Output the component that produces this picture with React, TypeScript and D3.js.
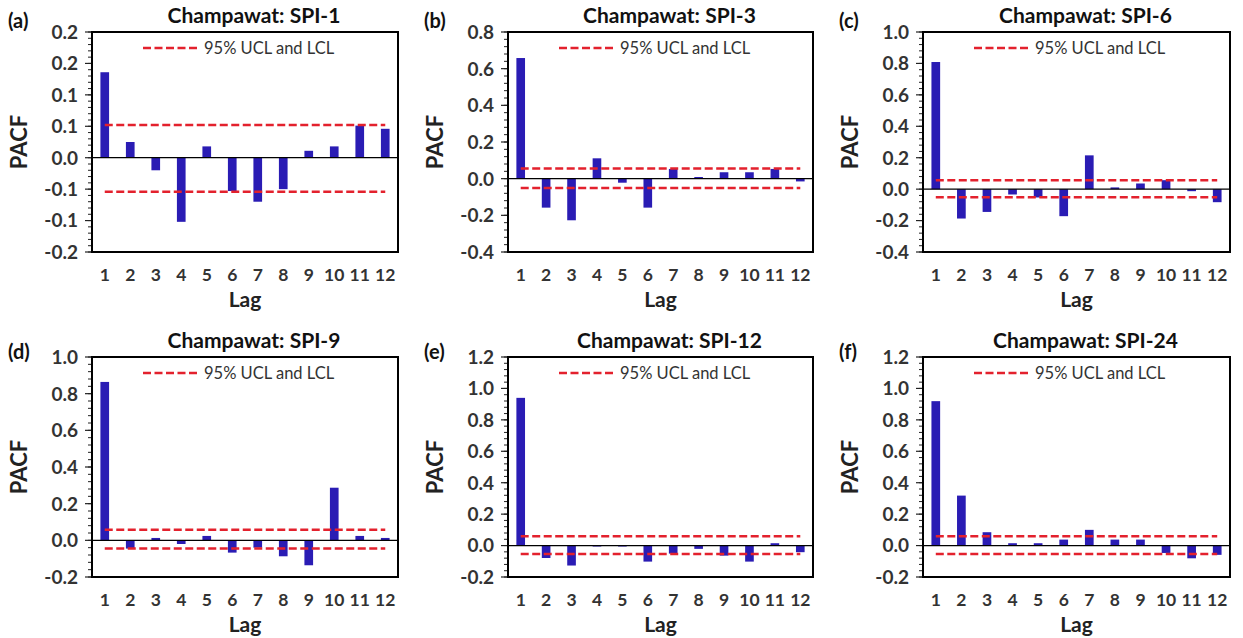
import React, { useRef, useEffect } from "react";
import * as d3 from "d3";

// lags shared by every panel
const lags = [1, 2, 3, 4, 5, 6, 7, 8, 9, 10, 11, 12];

// PACF values
const spi1 = [0.136, 0.025, -0.02, -0.102, 0.018, -0.053, -0.07, -0.05, 0.011, 0.018, 0.051, 0.046];
const spi3 = [0.658, -0.158, -0.227, 0.111, -0.022, -0.158, 0.053, 0.009, 0.035, 0.035, 0.053, -0.015];
const spi6 = [0.809, -0.187, -0.145, -0.034, -0.053, -0.172, 0.215, 0.011, 0.036, 0.057, -0.013, -0.083];
const spi9 = [0.864, -0.045, 0.013, -0.02, 0.024, -0.067, -0.04, -0.087, -0.136, 0.287, 0.024, 0.013];
const spi12 = [0.94, -0.079, -0.127, -0.006, -0.006, -0.102, -0.051, -0.021, -0.064, -0.102, 0.015, -0.042];
const spi24 = [0.919, 0.318, 0.085, 0.015, 0.015, 0.038, 0.1, 0.038, 0.038, -0.047, -0.081, -0.059];

// 95% confidence limits (upper, lower)
const ciA = [0.052, -0.054];
const ciB = [0.056, -0.051];
const ciC = [0.057, -0.051];
const ciD = [0.058, -0.045];
const ciE = [0.059, -0.053];
const ciF = [0.059, -0.053];

// y tick values and the labels as printed (Excel rounding to one decimal)
const ticksA = [-0.15, -0.1, -0.05, 0, 0.05, 0.1, 0.15, 0.2];
const labelsA = ["-0.2", "-0.1", "-0.1", "0.0", "0.1", "0.1", "0.2", "0.2"];
const ticksB = [-0.4, -0.2, 0, 0.2, 0.4, 0.6, 0.8];
const labelsB = ["-0.4", "-0.2", "0.0", "0.2", "0.4", "0.6", "0.8"];
const ticksC = [-0.4, -0.2, 0, 0.2, 0.4, 0.6, 0.8, 1.0];
const labelsC = ["-0.4", "-0.2", "0.0", "0.2", "0.4", "0.6", "0.8", "1.0"];
const ticksD = [-0.2, 0, 0.2, 0.4, 0.6, 0.8, 1.0];
const labelsD = ["-0.2", "0.0", "0.2", "0.4", "0.6", "0.8", "1.0"];
const ticksE = [-0.2, 0, 0.2, 0.4, 0.6, 0.8, 1.0, 1.2];
const labelsE = ["-0.2", "0.0", "0.2", "0.4", "0.6", "0.8", "1.0", "1.2"];

const panels = [
  { tag: "(a)", title: "Champawat: SPI-1", values: spi1, ci: ciA, ticks: ticksA, labels: labelsA, col: 0, row: 0 },
  { tag: "(b)", title: "Champawat: SPI-3", values: spi3, ci: ciB, ticks: ticksB, labels: labelsB, col: 1, row: 0 },
  { tag: "(c)", title: "Champawat: SPI-6", values: spi6, ci: ciC, ticks: ticksC, labels: labelsC, col: 2, row: 0 },
  { tag: "(d)", title: "Champawat: SPI-9", values: spi9, ci: ciD, ticks: ticksD, labels: labelsD, col: 0, row: 1 },
  { tag: "(e)", title: "Champawat: SPI-12", values: spi12, ci: ciE, ticks: ticksE, labels: labelsE, col: 1, row: 1 },
  { tag: "(f)", title: "Champawat: SPI-24", values: spi24, ci: ciF, ticks: ticksE, labels: labelsE, col: 2, row: 1 },
];

const WIDTH = 1243;
const HEIGHT = 638;
const colX = [[92, 398], [508, 813], [923, 1230]];
const rowY = [[32, 252], [357, 577]];
const FONT = "Lato, 'Open Sans', sans-serif";
const BAR = "#2a1cb4";
const RED = "#e3212d";

export default function App() {
  const svgRef = useRef<SVGSVGElement>(null);

  useEffect(() => {
    const svg = d3.select(svgRef.current).attr("width", WIDTH).attr("height", HEIGHT);
    svg.selectAll("*").remove();

    panels.forEach((p) => {
      const [x0, x1] = colX[p.col];
      const [y0, y1] = rowY[p.row];
      const g = svg.append("g");

      const x = d3.scaleBand<number>().domain(lags).range([x0, x1]).padding(0);
      const y = d3.scaleLinear().domain([p.ticks[0], p.ticks[p.ticks.length - 1]]).range([y1, y0]);
      const bw = x.bandwidth() * 0.34;
      const cx = (d: number) => (x(d) as number) + x.bandwidth() / 2;

      // minor ticks: 5 per major interval
      const step = p.ticks[1] - p.ticks[0];
      const minor = d3.range(0, (p.ticks.length - 1) * 5 + 1).map((i) => p.ticks[0] + (i * step) / 5);
      g.selectAll("line.minor")
        .data(minor)
        .join("line")
        .attr("class", "minor")
        .attr("x1", x0 - 4)
        .attr("x2", x0)
        .attr("y1", (d) => y(d))
        .attr("y2", (d) => y(d))
        .attr("stroke", "#222")
        .attr("stroke-width", 1);
      g.selectAll("line.major")
        .data(p.ticks)
        .join("line")
        .attr("class", "major")
        .attr("x1", x0 - 7)
        .attr("x2", x0)
        .attr("y1", (d) => y(d))
        .attr("y2", (d) => y(d))
        .attr("stroke", "#222")
        .attr("stroke-width", 1.2);

      // y tick labels
      g.selectAll("text.ylab")
        .data(p.ticks)
        .join("text")
        .attr("class", "ylab")
        .attr("x", x0 - 14)
        .attr("y", (d) => y(d))
        .attr("dy", "0.36em")
        .attr("text-anchor", "end")
        .attr("font-family", FONT)
        .attr("font-weight", "bold")
        .attr("font-size", 19)
        .attr("fill", "#333")
        .text((d, i) => p.labels[i]);

      // bars
      g.selectAll("rect.bar")
        .data(p.values)
        .join("rect")
        .attr("class", "bar")
        .attr("x", (d, i) => cx(lags[i]) - bw / 2)
        .attr("y", (d) => y(Math.max(0, d)))
        .attr("width", bw)
        .attr("height", (d) => Math.abs(y(d) - y(0)))
        .attr("fill", BAR);

      // zero line
      g.append("line")
        .attr("x1", x0)
        .attr("x2", x1)
        .attr("y1", y(0))
        .attr("y2", y(0))
        .attr("stroke", "#000")
        .attr("stroke-width", 1.2);

      // confidence limits
      p.ci.forEach((c) => {
        g.append("line")
          .attr("x1", cx(1))
          .attr("x2", cx(12))
          .attr("y1", y(c))
          .attr("y2", y(c))
          .attr("stroke", RED)
          .attr("stroke-width", 2.5)
          .attr("stroke-dasharray", "8,3.5");
      });

      // frame
      g.append("rect")
        .attr("x", x0)
        .attr("y", y0)
        .attr("width", x1 - x0)
        .attr("height", y1 - y0)
        .attr("fill", "none")
        .attr("stroke", "#000")
        .attr("stroke-width", 2);

      // legend
      g.append("line")
        .attr("x1", x0 + 51)
        .attr("x2", x0 + 108)
        .attr("y1", y0 + 16)
        .attr("y2", y0 + 16)
        .attr("stroke", RED)
        .attr("stroke-width", 2.5)
        .attr("stroke-dasharray", "8,3.5");
      g.append("text")
        .attr("x", x0 + 112)
        .attr("y", y0 + 16)
        .attr("dy", "0.35em")
        .attr("font-family", FONT)
        .attr("font-size", 16.5)
        .attr("fill", "#333")
        .text("95% UCL and LCL");

      // x tick labels
      g.selectAll("text.xlab")
        .data(lags)
        .join("text")
        .attr("class", "xlab")
        .attr("x", (d) => cx(d))
        .attr("y", y1 + 29)
        .attr("text-anchor", "middle")
        .attr("font-family", FONT)
        .attr("font-weight", "bold")
        .attr("font-size", 17.5)
        .attr("fill", "#333")
        .text((d) => d);

      // axis titles
      g.append("text")
        .attr("x", (x0 + x1) / 2)
        .attr("y", y1 + 55)
        .attr("text-anchor", "middle")
        .attr("font-family", FONT)
        .attr("font-weight", "bold")
        .attr("font-size", 21)
        .attr("fill", "#222")
        .text("Lag");
      g.append("text")
        .attr("transform", `translate(${x0 - 65},${(y0 + y1) / 2}) rotate(-90)`)
        .attr("text-anchor", "middle")
        .attr("font-family", FONT)
        .attr("font-weight", "bold")
        .attr("font-size", 22)
        .attr("fill", "#222")
        .text("PACF");

      // panel title and tag
      g.append("text")
        .attr("x", (x0 + x1) / 2 + 9)
        .attr("y", y0 - 9)
        .attr("text-anchor", "middle")
        .attr("font-family", FONT)
        .attr("font-weight", "bold")
        .attr("font-size", 21)
        .attr("fill", "#111")
        .text(p.title);
      g.append("text")
        .attr("x", x0 - 84)
        .attr("y", p.row === 0 ? y0 - 4 : y0 + 2)
        .attr("font-family", FONT)
        .attr("font-weight", "bold")
        .attr("font-size", 20)
        .attr("fill", "#111")
        .text(p.tag);
    });
  }, []);

  return (
    <div style={{ position: "absolute", left: 0, top: 0 }}>
      <svg ref={svgRef} />
    </div>
  );
}
